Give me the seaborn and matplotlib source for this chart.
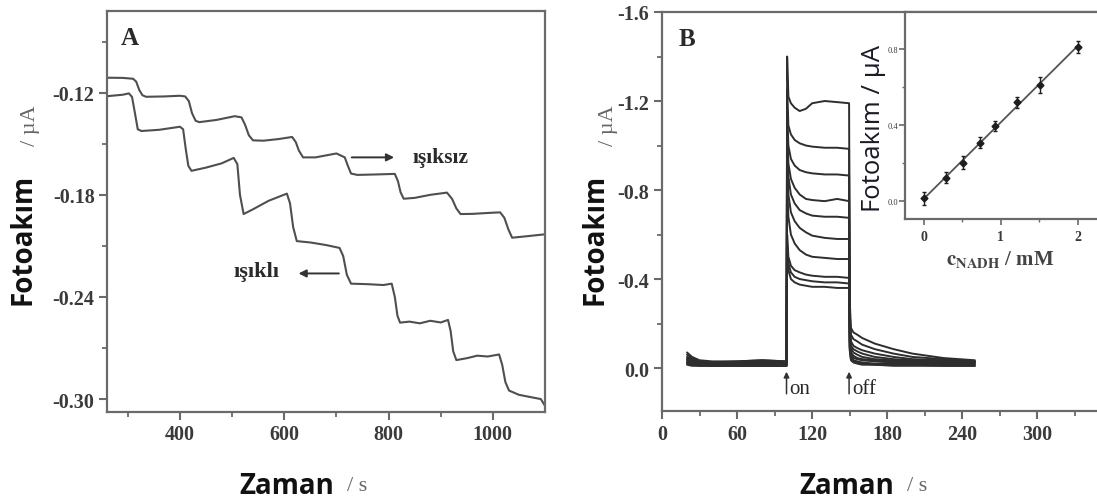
import numpy as np
import pandas as pd
import matplotlib
matplotlib.use("Agg")
import matplotlib.pyplot as plt
import seaborn as sns
from matplotlib.ticker import FixedLocator

# ---------------- Panel A data (time / s, photocurrent / uA) ----------------
tA_dark = [262, 290, 310, 316, 322, 328, 335, 370, 400, 410, 417, 423, 430, 437, 470, 505, 518,
           525, 532, 540, 560, 590, 615, 622, 628, 636, 660, 700, 716, 722, 728, 740, 780, 812,
           818, 823, 829, 850, 880, 912, 922, 930, 938, 960, 1000, 1014, 1022, 1030, 1037, 1060, 1100]
iA_dark = [-0.1112, -0.1113, -0.1118, -0.1135, -0.1185, -0.1215, -0.1224, -0.1222, -0.1218, -0.1222,
           -0.1250, -0.1320, -0.1365, -0.1373, -0.1360, -0.1338, -0.1345, -0.1390, -0.1450, -0.1480,
           -0.1482, -0.1472, -0.1460, -0.1490, -0.1540, -0.1580, -0.1580, -0.1557, -0.1580, -0.1630,
           -0.1675, -0.1683, -0.1680, -0.1677, -0.1720, -0.1785, -0.1823, -0.1818, -0.1800, -0.1787,
           -0.1825, -0.1880, -0.1913, -0.1912, -0.1905, -0.1903, -0.1935, -0.2005, -0.2052, -0.2045,
           -0.2032]
tA_light = [262, 290, 302, 308, 313, 319, 326, 360, 400, 406, 411, 416, 422, 450, 480, 503, 510, 515,
            522, 540, 570, 605, 611, 617, 624, 650, 680, 706, 713, 720, 728, 760, 790, 806, 812, 817,
            822, 840, 860, 880, 900, 914, 919, 924, 930, 950, 970, 990, 1012, 1018, 1024, 1031, 1050,
            1075, 1092, 1100]
iA_light = [-0.1220, -0.1212, -0.1204, -0.1225, -0.1310, -0.1415, -0.1425, -0.1418, -0.1400, -0.1415,
            -0.1530, -0.1630, -0.1659, -0.1640, -0.1615, -0.1583, -0.1620, -0.1800, -0.1913, -0.1885,
            -0.1835, -0.1793, -0.1850, -0.1990, -0.2072, -0.2080, -0.2095, -0.2112, -0.2160, -0.2270,
            -0.2322, -0.2325, -0.2330, -0.2322, -0.2400, -0.2510, -0.2551, -0.2545, -0.2555, -0.2540,
            -0.2550, -0.2535, -0.2600, -0.2720, -0.2771, -0.2760, -0.2745, -0.2750, -0.2738, -0.2800,
            -0.2900, -0.2950, -0.2975, -0.2990, -0.3000, -0.3040]

# ---------------- Panel B data (on/off transients) ----------------
tB = [20, 24, 30, 40, 60, 80, 99.5,
      100, 101, 103, 106, 110, 115, 120, 130, 140, 149.5,
      150, 151, 153, 156, 160, 170, 185, 200, 225, 250]
curve_1 = [-0.070, -0.050, -0.035, -0.030, -0.030, -0.035, -0.030,
           -1.400, -1.220, -1.190, -1.170, -1.155, -1.165, -1.190, -1.200, -1.195, -1.190,
           -0.300, -0.180, -0.160, -0.150, -0.135, -0.110, -0.085, -0.065, -0.045, -0.035]
curve_2 = [-0.060, -0.045, -0.030, -0.025, -0.030, -0.035, -0.030,
           -1.250, -1.090, -1.050, -1.025, -1.010, -1.000, -0.995, -0.990, -0.990, -0.985,
           -0.250, -0.150, -0.130, -0.120, -0.105, -0.085, -0.065, -0.050, -0.040, -0.030]
curve_3 = [-0.050, -0.040, -0.030, -0.025, -0.025, -0.030, -0.025,
           -1.150, -1.000, -0.940, -0.910, -0.890, -0.880, -0.875, -0.870, -0.870, -0.865,
           -0.220, -0.120, -0.100, -0.090, -0.080, -0.065, -0.050, -0.040, -0.035, -0.030]
curve_4 = [-0.045, -0.035, -0.025, -0.020, -0.020, -0.025, -0.020,
           -1.050, -0.920, -0.850, -0.810, -0.780, -0.760, -0.755, -0.750, -0.760, -0.750,
           -0.200, -0.100, -0.085, -0.075, -0.065, -0.050, -0.040, -0.035, -0.030, -0.025]
curve_5 = [-0.040, -0.030, -0.020, -0.020, -0.020, -0.020, -0.020,
           -0.980, -0.860, -0.780, -0.740, -0.710, -0.695, -0.685, -0.680, -0.680, -0.675,
           -0.180, -0.090, -0.070, -0.060, -0.050, -0.040, -0.035, -0.030, -0.025, -0.025]
curve_6 = [-0.035, -0.025, -0.020, -0.015, -0.015, -0.020, -0.015,
           -0.900, -0.780, -0.700, -0.660, -0.630, -0.610, -0.595, -0.585, -0.580, -0.580,
           -0.150, -0.070, -0.055, -0.045, -0.040, -0.035, -0.030, -0.025, -0.020, -0.020]
curve_7 = [-0.030, -0.020, -0.015, -0.015, -0.015, -0.015, -0.015,
           -0.800, -0.680, -0.600, -0.560, -0.530, -0.510, -0.500, -0.495, -0.490, -0.490,
           -0.120, -0.060, -0.045, -0.040, -0.035, -0.030, -0.025, -0.020, -0.020, -0.020]
curve_8 = [-0.025, -0.020, -0.015, -0.010, -0.010, -0.010, -0.010,
           -0.600, -0.500, -0.460, -0.440, -0.430, -0.420, -0.415, -0.410, -0.410, -0.405,
           -0.100, -0.050, -0.035, -0.030, -0.025, -0.020, -0.020, -0.015, -0.015, -0.015]
curve_9 = [-0.020, -0.015, -0.010, -0.010, -0.010, -0.010, -0.010,
           -0.550, -0.470, -0.430, -0.410, -0.400, -0.395, -0.390, -0.385, -0.385, -0.380,
           -0.090, -0.040, -0.030, -0.025, -0.020, -0.015, -0.015, -0.015, -0.010, -0.010]
curve_10 = [-0.015, -0.010, -0.010, -0.010, -0.010, -0.010, -0.010,
            -0.500, -0.440, -0.400, -0.385, -0.375, -0.370, -0.365, -0.365, -0.360, -0.360,
            -0.080, -0.035, -0.025, -0.020, -0.015, -0.015, -0.010, -0.010, -0.010, -0.010]
curvesB = [curve_1, curve_2, curve_3, curve_4, curve_5, curve_6, curve_7, curve_8, curve_9, curve_10]

# ---------------- Inset data (calibration) ----------------
c_nadh = [0.0, 0.28, 0.51, 0.73, 0.93, 1.21, 1.51, 2.0]
i_nadh = [0.016, 0.125, 0.204, 0.309, 0.396, 0.520, 0.612, 0.812]
i_err = [0.035, 0.030, 0.035, 0.030, 0.025, 0.030, 0.040, 0.030]

# ---------------- style ----------------
sns.set_theme(style="ticks")
plt.rcParams['font.family'] = ['Liberation Serif', 'DejaVu Serif']
plt.rcParams['mathtext.fontset'] = 'stix'
SPINE = '#6a6a6a'
TICKLAB = '#3a3a3a'
plt.rcParams.update({
    'axes.edgecolor': SPINE, 'axes.linewidth': 1.6,
    'xtick.color': SPINE, 'ytick.color': SPINE,
    'xtick.labelcolor': TICKLAB, 'ytick.labelcolor': TICKLAB,
    'xtick.direction': 'out', 'ytick.direction': 'out',
    'xtick.major.size': 6, 'ytick.major.size': 6,
    'xtick.minor.size': 3.5, 'ytick.minor.size': 3.5,
    'xtick.major.width': 1.5, 'ytick.major.width': 1.5,
    'xtick.minor.width': 1.3, 'ytick.minor.width': 1.3,
})

W, H = 1097, 502
fig = plt.figure(figsize=(W / 100, H / 100), dpi=100)


def fx(px):
    return px / W


def fy(py):
    return 1 - py / H


def bold_ticks(ax, size):
    for lab in ax.get_xticklabels() + ax.get_yticklabels():
        lab.set_fontweight('bold')
        lab.set_fontsize(size)


# ---------------- Panel A ----------------
axA = fig.add_axes([fx(107), fy(413), fx(545) - fx(107), fy(12) - fy(413)])
dfA = pd.concat([
    pd.DataFrame({'t': tA_dark, 'i': iA_dark, 'seri': 'ışıksız'}),
    pd.DataFrame({'t': tA_light, 'i': iA_light, 'seri': 'ışıklı'}),
])
sns.lineplot(data=dfA, x='t', y='i', units='seri', estimator=None, sort=False,
             color='#4f4f4f', lw=1.5, ax=axA, legend=False)
axA.set_xlim(260, 1100)
axA.set_ylim(-0.3076, -0.072)
axA.xaxis.set_major_locator(FixedLocator([400, 600, 800, 1000]))
axA.xaxis.set_minor_locator(FixedLocator([300, 500, 700, 900]))
axA.yaxis.set_major_locator(FixedLocator([-0.12, -0.18, -0.24, -0.30]))
axA.yaxis.set_minor_locator(FixedLocator([-0.09, -0.15, -0.21, -0.27]))
axA.set_yticklabels(['-0.12', '-0.18', '-0.24', '-0.30'])
axA.tick_params(axis='both', which='major', pad=3)
bold_ticks(axA, 14.5)
axA.set_xlabel('')
axA.set_ylabel('')
for s in axA.spines.values():
    s.set_visible(True)

axA.text(303, -0.0875, 'A', fontsize=18, fontweight='bold', color='#2a2a2a',
         ha='center', va='center')
axA.annotate('', xy=(816, -0.158), xytext=(724, -0.158),
             arrowprops=dict(arrowstyle='-|>', color='#333333', lw=1.4, mutation_scale=11))
axA.text(900, -0.158, 'ışıksız', fontsize=15.5, fontweight='bold', color='#2a2a2a',
         ha='center', va='center')
axA.annotate('', xy=(622, -0.2262), xytext=(710, -0.2262),
             arrowprops=dict(arrowstyle='-|>', color='#333333', lw=1.4, mutation_scale=11))
axA.text(546, -0.2245, 'ışıklı', fontsize=16, fontweight='bold', color='#2a2a2a',
         ha='center', va='center')

# ---------------- Panel B ----------------
axB = fig.add_axes([fx(662), fy(412), fx(1100) - fx(662), fy(13) - fy(412)])
dfB = pd.concat([pd.DataFrame({'t': tB, 'i': c, 'egri': k})
                 for k, c in enumerate(curvesB)])
sns.lineplot(data=dfB, x='t', y='i', units='egri', estimator=None, sort=False,
             color='#2e2e2e', lw=1.4, ax=axB, legend=False)
axB.set_xlim(0, 350)
axB.set_ylim(0.193, -1.6)
axB.xaxis.set_major_locator(FixedLocator([0, 60, 120, 180, 240, 300]))
axB.xaxis.set_minor_locator(FixedLocator([30, 90, 150, 210, 270, 330]))
axB.yaxis.set_major_locator(FixedLocator([-1.6, -1.2, -0.8, -0.4, 0.0]))
axB.yaxis.set_minor_locator(FixedLocator([-1.4, -1.0, -0.6, -0.2, 0.2]))
axB.set_yticklabels(['-1.6', '-1.2', '-0.8', '-0.4', '0.0'])
axB.tick_params(axis='both', which='major', pad=3)
bold_ticks(axB, 14.5)
axB.set_xlabel('')
axB.set_ylabel('')
for s in axB.spines.values():
    s.set_visible(True)
axB.text(20, -1.48, 'B', fontsize=18, fontweight='bold', color='#2a2a2a',
         ha='center', va='center')
for tt, lab in [(99.5, 'on'), (149.5, 'off')]:
    axB.annotate('', xy=(tt, 0.004), xytext=(tt, 0.128),
                 arrowprops=dict(arrowstyle='-|>', color='#333333', lw=1.1, mutation_scale=8))
    axB.text(tt + 2.5, 0.092, lab, fontsize=15, color='#2a2a2a', ha='left', va='center')

# ---------------- Inset ----------------
axI = fig.add_axes([fx(905), fy(220), fx(1100) - fx(905), fy(13) - fy(220)])
axI.errorbar(c_nadh, i_nadh, yerr=i_err, fmt='D', ms=3.5, color='#1e1e1e',
             ecolor='#1e1e1e', elinewidth=1.0, capsize=1.5, zorder=3)
sns.regplot(x=c_nadh, y=i_nadh, scatter=False, ci=None, ax=axI,
            line_kws=dict(color='#555555', lw=1.3))
axI.set_xlim(-0.247, 2.29)
axI.set_ylim(-0.093, 0.996)
axI.xaxis.set_major_locator(FixedLocator([0, 1, 2]))
axI.xaxis.set_minor_locator(FixedLocator([0.5, 1.5]))
axI.yaxis.set_major_locator(FixedLocator([0.0, 0.4, 0.8]))
axI.yaxis.set_minor_locator(FixedLocator([0.2, 0.6]))
axI.set_xticklabels(['0', '1', '2'])
axI.set_yticklabels(['0.0', '0.4', '0.8'])
axI.tick_params(axis='both', which='major', length=4, width=1.2)
axI.tick_params(axis='both', which='minor', length=2.5, width=1.0)
axI.tick_params(axis='y', labelsize=6, pad=1)
axI.tick_params(axis='x', labelsize=10, pad=4)
for lab in axI.get_xticklabels():
    lab.set_fontweight('bold')
axI.set_xlabel('')
axI.set_ylabel('')
for s in axI.spines.values():
    s.set_visible(True)
fig.text(fx(873), fy(128), 'Fotoakım / µA', rotation=90, ha='center', va='center',
         fontsize=18.5, family=['Open Sans', 'DejaVu Sans'], color='#1a1a28')
fig.text(fx(1000), fy(259), r'$\mathbf{c_{NADH}}$ / mM', ha='center', va='center',
         fontsize=15, fontweight='bold', color='#444444')

# ---------------- axis titles ----------------
for x_f, x_u, x_z, x_s in [(23, 30, 287, 357), (595, 608, 847, 917)]:
    fig.text(fx(x_f), fy(239), 'Fotoakım', rotation=90, ha='center', va='center',
             fontsize=20, fontweight='bold', family=['Open Sans', 'DejaVu Sans'], color='#111111')
    fig.text(fx(x_u), fy(126), '/ µA', rotation=90, ha='center', va='center',
             fontsize=16, color='#666666')
    fig.text(fx(x_z), fy(487), 'Zaman', ha='center', va='center',
             fontsize=20, fontweight='bold', family=['Open Sans', 'DejaVu Sans'], color='#111111')
    fig.text(fx(x_s), fy(487), '/ s', ha='center', va='center',
             fontsize=16, color='#666666')

fig.savefig('out.png', dpi=100)
